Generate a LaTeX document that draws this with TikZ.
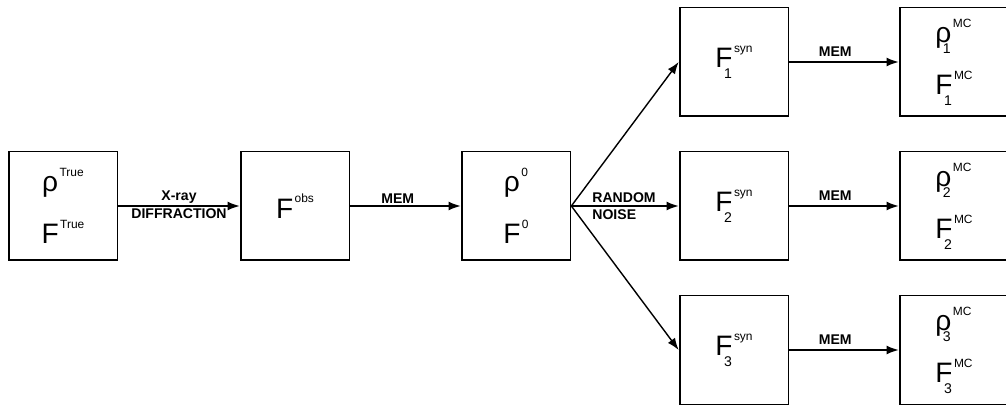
\documentclass[tikz,border=0pt]{standalone}
\usepackage{fontspec}
\setmainfont{Liberation Sans}
\usetikzlibrary{arrows.meta}
\newcommand{\supfont}{\fontsize{8.5}{8.5}\selectfont}
\newcommand{\subfont}{\fontsize{10}{10}\selectfont}
% quantity with a raised tag, and with an index tucked under it
\newcommand{\qsup}[2]{#1\kern1pt\raisebox{11pt}{\supfont #2}}
\newcommand{\qidx}[3]{#1\rlap{\kern-6pt\raisebox{-7.5pt}{\subfont #2}}\kern1pt\raisebox{11pt}{\supfont #3}}
\tikzset{
  qbox/.style={draw, line width=1.3pt, minimum width=2.72cm, minimum height=2.72cm,
               inner sep=0pt, align=center, font=\fontsize{20}{37}\selectfont},
  flow/.style={-{Latex[length=3mm,width=2.2mm]}, line width=1pt},
  tag/.style={font=\fontsize{10}{12}\selectfont\bfseries, inner sep=1.5pt}
}
\begin{document}
\begin{tikzpicture}[x=0.025cm,y=-0.025cm]
  \useasboundingbox (0,0) rectangle (1006,406);
  \node[qbox] (true) at (63,206) {\qsup{ρ}{True}\\\qsup{F}{True}};
  \node[qbox] (obs) at (295,206) {\qsup{F}{obs}};
  \node[qbox] (zero) at (516,206) {\qsup{ρ}{0}\\\qsup{F}{0}};
  \draw[flow] (true) -- node[tag, above] {X-ray} node[tag, below] {DIFFRACTION} (obs);
  \draw[flow] (obs) -- node[tag, above, pos=0.43] {MEM} (zero);
  % three noisy copies, each refined again
  \foreach \i/\y in {1/62,2/206,3/350} {
    \node[qbox] (syn\i) at (734,\y) {\qidx{F}{\i}{syn}};
    \node[qbox, align=left] (mc\i) at (954,\y) {\qidx{ρ}{\i}{MC}\\\qidx{F}{\i}{MC}};
    \draw[flow] (syn\i) -- node[tag, above=2pt, pos=0.42] {MEM} (mc\i);
  }
  \draw[flow] (zero.east) -- (syn1.west);
  \draw[flow] (zero.east) -- node[tag, align=left, anchor=west, pos=0.17] {RANDOM\\NOISE} (syn2.west);
  \draw[flow] (zero.east) -- (syn3.west);
\end{tikzpicture}
\end{document}
